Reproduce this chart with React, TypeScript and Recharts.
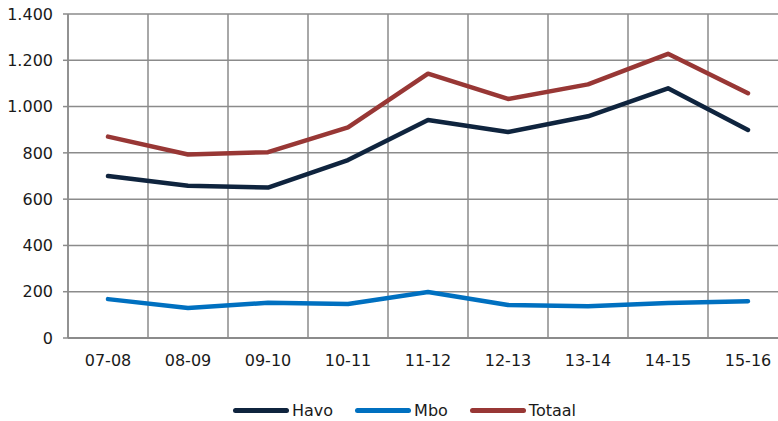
import React from 'react';
import { LineChart, Line, XAxis, YAxis, CartesianGrid, Legend } from 'recharts';

const categories = ['07-08', '08-09', '09-10', '10-11', '11-12', '12-13', '13-14', '14-15', '15-16'];
const havo = [700, 658, 650, 769, 942, 890, 958, 1079, 899];
const mbo = [168, 130, 152, 147, 199, 143, 137, 151, 159];
const totaal = [870, 793, 803, 910, 1142, 1033, 1096, 1228, 1058];
const yTicks = [0, 200, 400, 600, 800, 1000, 1200, 1400];

const seriesInfo = [
  { key: 'havo', name: 'Havo', color: '#0f243e' },
  { key: 'mbo', name: 'Mbo', color: '#0070c0' },
  { key: 'totaal', name: 'Totaal', color: '#983735' },
];

const data = categories.map((c, i) => ({ cat: c, havo: havo[i], mbo: mbo[i], totaal: totaal[i] }));

const FONT = '"DejaVu Sans", sans-serif';
const GRID = '#8b8b8b';

const fmt = (v: number) => String(v).replace(/\B(?=(\d{3})+(?!\d))/g, '.');

const LegendContent = () => (
  <div style={{ display: 'flex', alignItems: 'center', height: 22, paddingLeft: 233, fontFamily: FONT, fontSize: 16, color: '#1a1a1a' }}>
    {seriesInfo.map((s) => (
      <div key={s.key} style={{ display: 'flex', alignItems: 'center', marginRight: 22 }}>
        <div style={{ width: 56, height: 5, borderRadius: 3, background: s.color, marginRight: 3 }} />
        <span>{s.name}</span>
      </div>
    ))}
  </div>
);

export default function App() {
  return (
    <div style={{ position: 'absolute', left: 0, top: 0, width: 778, height: 421, overflow: 'hidden', background: '#fff' }}>
      <LineChart width={788} height={421} data={data} margin={{ top: 14, right: 0, left: 0, bottom: 0 }}>
        <CartesianGrid
          stroke={GRID}
          strokeWidth={1.5}
          verticalCoordinatesGenerator={(props: any) => {
            const off = props.offset;
            const n = categories.length;
            const arr: number[] = [];
            for (let i = 0; i < n; i++) arr.push(off.left + (i * off.width) / n);
            return arr;
          }}
        />
        <XAxis
          dataKey="cat"
          scale="band"
          height={61}
          tickSize={0}
          tickMargin={17}
          interval={0}
          axisLine={{ stroke: GRID, strokeWidth: 2 }}
          tick={{ fontFamily: FONT, fontSize: 16, fill: '#1a1a1a' }}
        />
        <YAxis
          width={68}
          domain={[0, 1400]}
          ticks={yTicks}
          tickFormatter={fmt}
          tickSize={5}
          tickMargin={10}
          axisLine={{ stroke: GRID, strokeWidth: 1.5 }}
          tickLine={{ stroke: GRID, strokeWidth: 1.5 }}
          tick={{ fontFamily: FONT, fontSize: 16, fill: '#1a1a1a' }}
          interval={0}
        />
        <Legend verticalAlign="bottom" content={<LegendContent />} wrapperStyle={{ left: 0, width: 778 }} />
        {seriesInfo.map((s) => (
          <Line
            key={s.key}
            type="linear"
            dataKey={s.key}
            name={s.name}
            stroke={s.color}
            strokeWidth={4.5}
            strokeLinecap="round"
            strokeLinejoin="round"
            dot={false}
            activeDot={false}
            isAnimationActive={false}
          />
        ))}
      </LineChart>
    </div>
  );
}
